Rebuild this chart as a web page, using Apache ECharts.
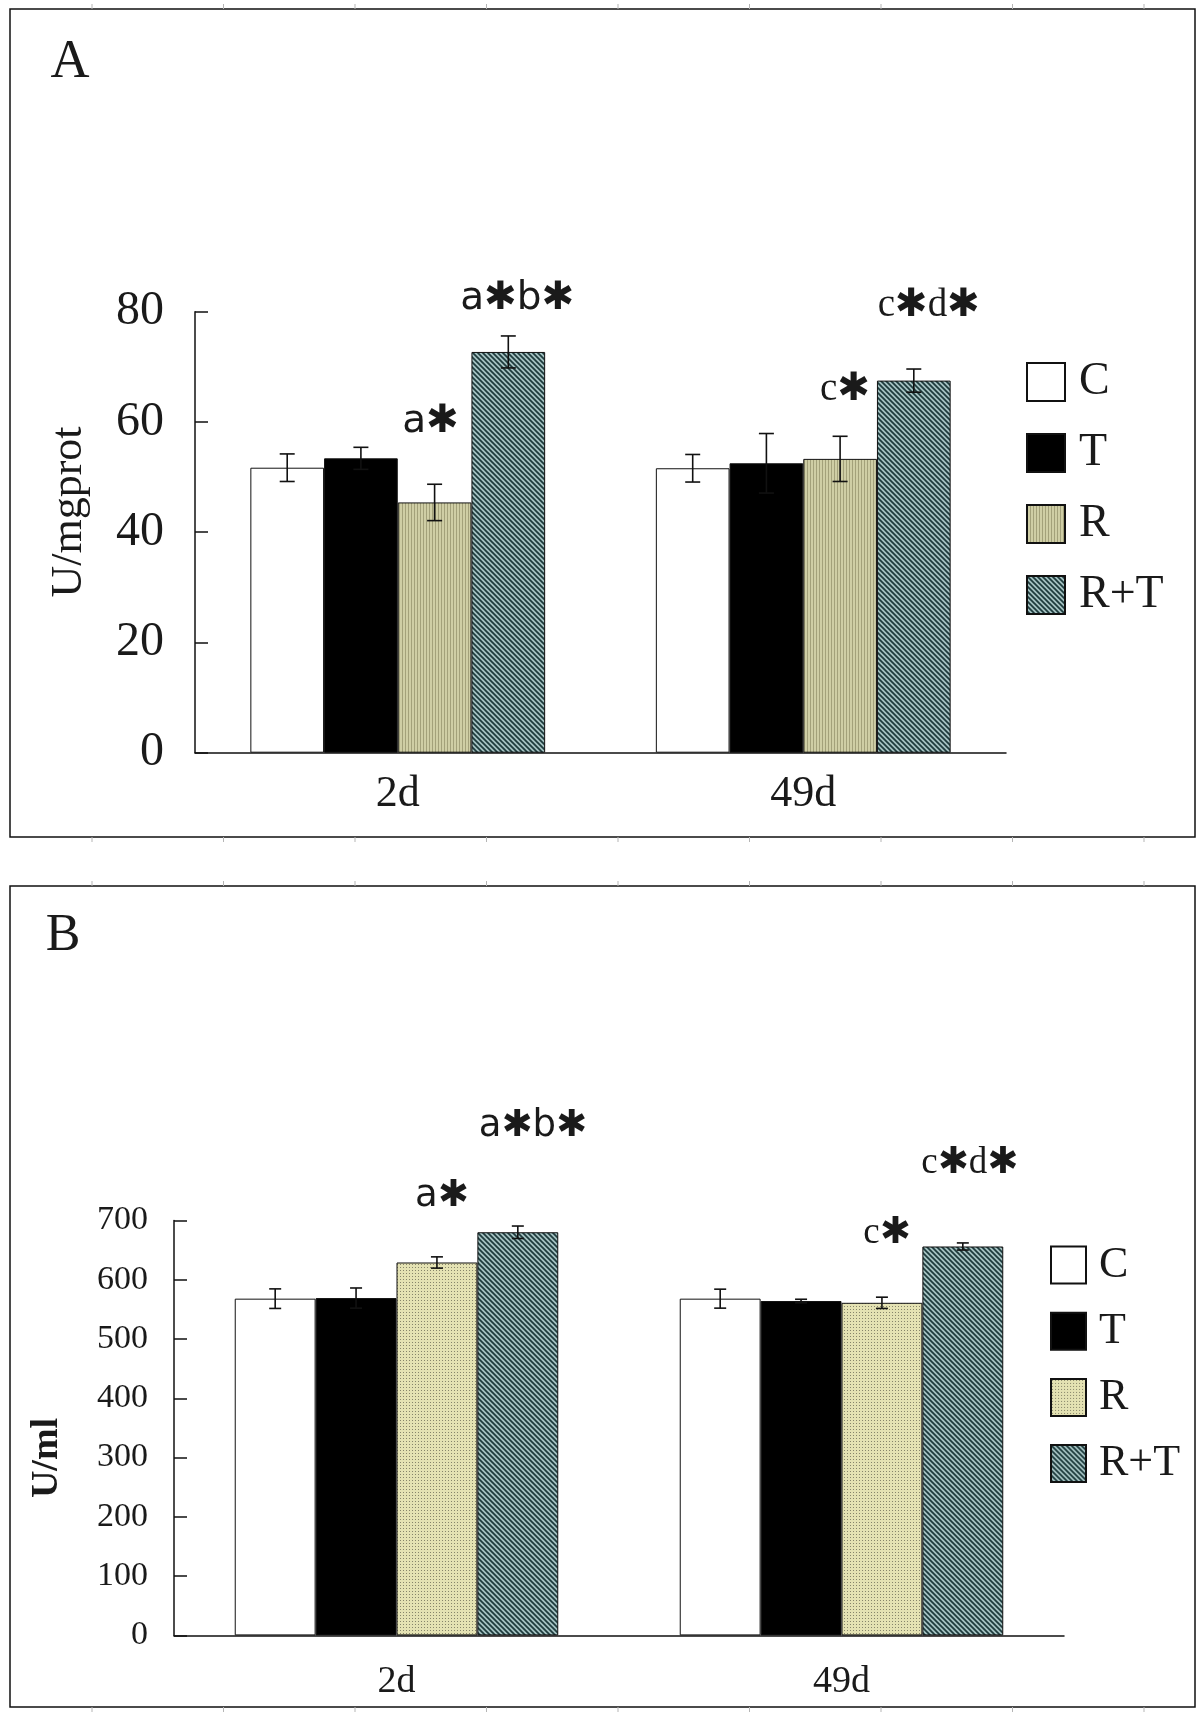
<!DOCTYPE html>
<html><head><meta charset="utf-8">
<script src="https://cdn.jsdelivr.net/npm/echarts@6/dist/echarts.min.js"></script>
<style>html,body{margin:0;padding:0;background:#fff}#c{width:1200px;height:1713px}</style>
</head><body><div id="c"></div>
<script>
// ---------------- data ----------------
const categories = ['2d', '49d'];
const groups = ['C', 'T', 'R', 'R+T'];

// Panel A  (U/mgprot)
const aC = [51.7, 51.6];
const aT = [53.4, 52.5];
const aR = [45.4, 53.3];
const aRT = [72.7, 67.5];
const aCErr = [2.5, 2.5];
const aTErr = [2.0, 5.4];
const aRErr = [3.3, 4.1];
const aRTErr = [2.9, 2.1];
const aTicks = [0, 20, 40, 60, 80];

// Panel B  (U/ml)
const bC = [568, 568];
const bT = [569, 564];
const bR = [629, 561];
const bRT = [680, 656];
const bCErr = [16.5, 16];
const bTErr = [17, 3];
const bRErr = [9.5, 9.5];
const bRTErr = [10.5, 6];
const bTicks = [0, 100, 200, 300, 400, 500, 600, 700];

// significance marks: text, category index, group index, level (data units)
const aNoteText = ['a\u2731', 'a\u2731b\u2731', 'c\u2731', 'c\u2731d\u2731'];
const aNoteCat = [0, 0, 1, 1];
const aNoteGroup = [2, 3, 2, 3];
const aNoteLevel = [60, 82.3, 65.8, 81];
const bNoteText = ['a\u2731', 'a\u2731b\u2731', 'c\u2731', 'c\u2731d\u2731'];
const bNoteCat = [0, 0, 1, 1];
const bNoteGroup = [2, 3, 2, 3];
const bNoteLevel = [741, 859, 679, 797];

// ---------------- style ----------------
const GAP = 0.273;
const noteDxA = [-4, 9, 5, 15];
const noteDxB = [5, 15, 5, 7];
const SANS_NOTE = 'DejaVu Sans, sans-serif';
const SERIF_NOTE = 'Liberation Serif, DejaVu Sans, serif';
const noteFonts = [SANS_NOTE, SANS_NOTE, SERIF_NOTE, SERIF_NOTE];
const SERIF = 'Liberation Serif, DejaVu Serif, serif';

function pattern(kind) {
  const c = document.createElement('canvas');
  const g = c.getContext('2d');
  if (kind === 'vlines') {
    c.width = 3; c.height = 4;
    g.fillStyle = '#cfcea5'; g.fillRect(0, 0, 3, 4);
    g.fillStyle = '#a3a17a'; g.fillRect(0, 0, 1, 4);
  } else if (kind === 'dots') {
    c.width = 3; c.height = 3;
    g.fillStyle = '#e4e2b3'; g.fillRect(0, 0, 3, 3);
    g.fillStyle = '#86856a'; g.fillRect(1, 1, 1, 1);
  } else {
    c.width = 5; c.height = 5;
    g.fillStyle = '#a4c1c1'; g.fillRect(0, 0, 5, 5);
    g.strokeStyle = '#1d3a3c'; g.lineWidth = 1.7;
    g.beginPath();
    g.moveTo(-1, -1); g.lineTo(6, 6);
    g.moveTo(-1, 4); g.lineTo(1, 6);
    g.moveTo(4, -1); g.lineTo(6, 1);
    g.stroke();
  }
  return { image: c, repeat: 'repeat' };
}

const fillsA = ['#ffffff', '#000000', pattern('vlines'), pattern('diag')];
const fillsB = ['#ffffff', '#000000', pattern('dots'), pattern('diag')];

const valsA = [aC, aT, aR, aRT];
const errsA = [aCErr, aTErr, aRErr, aRTErr];
const valsB = [bC, bT, bR, bRT];
const errsB = [bCErr, bTErr, bRErr, bRTErr];

function barSeries(prefix, vals, fills, axisIdx) {
  return groups.map((g, i) => ({
    name: prefix + g,
    type: 'bar',
    xAxisIndex: axisIdx, yAxisIndex: axisIdx,
    data: vals[i],
    barGap: '0%',
    barCategoryGap: (GAP * 100) + '%',
    itemStyle: { color: fills[i], borderColor: '#111', borderWidth: 1 },
    emphasis: { disabled: true },
    animation: false
  }));
}

function errSeries(vals, errs, axisIdx, cap) {
  const data = [];
  vals.forEach((arr, gi) => arr.forEach((v, ci) => data.push([ci, v, errs[gi][ci], gi])));
  return {
    type: 'custom', xAxisIndex: axisIdx, yAxisIndex: axisIdx,
    data, encode: { x: 0, y: 1 }, z: 5, clip: false, animation: false, silent: true,
    renderItem(params, api) {
      const ci = api.value(0), v = api.value(1), e = api.value(2), gi = api.value(3);
      const band = api.size([1, 0])[0];
      const bw = band * (1 - GAP) / 4;
      const x = api.coord([ci, v])[0] + (gi - 1.5) * bw;
      const yt = api.coord([ci, v + e])[1];
      const yb = api.coord([ci, v - e])[1];
      const st = { stroke: '#111', lineWidth: 1.6 };
      return { type: 'group', children: [
        { type: 'line', shape: { x1: x, y1: yt, x2: x, y2: yb }, style: st },
        { type: 'line', shape: { x1: x - cap, y1: yt, x2: x + cap, y2: yt }, style: st },
        { type: 'line', shape: { x1: x - cap, y1: yb, x2: x + cap, y2: yb }, style: st }
      ]};
    }
  };
}

function noteSeries(texts, cats, grps, levels, dx, fonts, size, axisIdx) {
  const data = texts.map((t, i) => [cats[i], levels[i], grps[i]]);
  return {
    type: 'custom', xAxisIndex: axisIdx, yAxisIndex: axisIdx,
    data, encode: { x: 0, y: 1 }, z: 6, clip: false, animation: false, silent: true,
    renderItem(params, api) {
      const i = params.dataIndex;
      const band = api.size([1, 0])[0];
      const bw = band * (1 - GAP) / 4;
      const p = api.coord([api.value(0), api.value(1)]);
      return { type: 'text', x: p[0] + (api.value(2) - 1.5) * bw + dx[i], y: p[1],
        style: { text: texts[i], fontSize: size, fontFamily: fonts[i], fill: '#1a1a1a',
                 align: 'center', verticalAlign: 'middle' } };
    }
  };
}

// faint ruler ticks along the frame edges (decoration of the original figure border)
function frameTicks(y0, y1) {
  const out = [];
  for (let x = 92; x < 1195; x += 131.5) {
    out.push({ type: 'line', silent: true, shape: { x1: x, y1: y0 - 5, x2: x, y2: y0 }, style: { stroke: '#b5b5b5', lineWidth: 1 } });
    out.push({ type: 'line', silent: true, shape: { x1: x, y1: y1, x2: x, y2: y1 + 5 }, style: { stroke: '#b5b5b5', lineWidth: 1 } });
  }
  return out;
}

const axisLine = { show: true, lineStyle: { color: '#111', width: 1.5 } };

const option = {
  backgroundColor: '#ffffff',
  animation: false,
  grid: [
    { left: 195, top: 311.7, width: 811, height: 441, containLabel: false, outerBoundsMode: 'none' },
    { left: 174, top: 1220.4, width: 890, height: 415, containLabel: false, outerBoundsMode: 'none' }
  ],
  xAxis: [
    { type: 'category', gridIndex: 0, data: categories, axisLine, axisTick: { show: false },
      axisLabel: { fontFamily: SERIF, fontSize: 44, color: '#1a1a1a', margin: 20 } },
    { type: 'category', gridIndex: 1, data: categories, axisLine, axisTick: { show: false },
      axisLabel: { fontFamily: SERIF, fontSize: 38, color: '#1a1a1a', margin: 28 } }
  ],
  yAxis: [
    { type: 'value', gridIndex: 0, min: aTicks[0], max: aTicks[aTicks.length - 1], interval: aTicks[1] - aTicks[0],
      axisLine, axisTick: { show: true, inside: true, length: 13, lineStyle: { color: '#111', width: 1.5 } },
      splitLine: { show: false },
      axisLabel: { fontFamily: SERIF, fontSize: 48, color: '#1a1a1a', margin: 31 } },
    { type: 'value', gridIndex: 1, min: bTicks[0], max: bTicks[bTicks.length - 1], interval: bTicks[1] - bTicks[0],
      axisLine, axisTick: { show: true, inside: true, length: 13, lineStyle: { color: '#111', width: 1.5 } },
      splitLine: { show: false },
      axisLabel: { fontFamily: SERIF, fontSize: 34, color: '#1a1a1a', margin: 26 } }
  ],
  legend: [
    { orient: 'vertical', left: 1026, top: 359, padding: 0, itemWidth: 38, itemHeight: 38, itemGap: 25, icon: 'rect',
      data: groups.map(g => 'A' + g), formatter: n => n.slice(1), selectedMode: false,
      textStyle: { fontFamily: SERIF, fontSize: 46, lineHeight: 38, color: '#1a1a1a', padding: [0, 0, 0, 9] } },
    { orient: 'vertical', left: 1050, top: 1243, padding: 0, itemWidth: 35, itemHeight: 37, itemGap: 22.2, icon: 'rect',
      data: groups.map(g => 'B' + g), formatter: n => n.slice(1), selectedMode: false,
      textStyle: { fontFamily: SERIF, fontSize: 44, lineHeight: 37, color: '#1a1a1a', padding: [0, 0, 0, 8] } }
  ],
  graphic: [
    { type: 'rect', shape: { x: 10, y: 9, width: 1185, height: 828 }, style: { fill: 'none', stroke: '#111', lineWidth: 1.5 }, silent: true },
    { type: 'rect', shape: { x: 10, y: 886, width: 1185, height: 821 }, style: { fill: 'none', stroke: '#111', lineWidth: 1.5 }, silent: true },
    ...frameTicks(9, 837),
    ...frameTicks(886, 1707),
    { type: 'text', x: 70, y: 63, style: { text: 'A', fontFamily: SERIF, fontSize: 54, fill: '#1a1a1a', align: 'center', verticalAlign: 'middle' } },
    { type: 'text', x: 63, y: 936, style: { text: 'B', fontFamily: SERIF, fontSize: 52, fill: '#1a1a1a', align: 'center', verticalAlign: 'middle' } },
    { type: 'text', x: 69, y: 512, rotation: Math.PI / 2, style: { text: 'U/mgprot', fontFamily: SERIF, fontSize: 44, fill: '#1a1a1a', align: 'center', verticalAlign: 'middle' } },
    { type: 'text', x: 47, y: 1458, rotation: Math.PI / 2, style: { text: 'U/ml', fontFamily: SERIF, fontSize: 38, fontWeight: 'bold', fill: '#1a1a1a', align: 'center', verticalAlign: 'middle' } }
  ],
  series: [
    ...barSeries('A', valsA, fillsA, 0),
    ...barSeries('B', valsB, fillsB, 1),
    errSeries(valsA, errsA, 0, 7.5),
    errSeries(valsB, errsB, 1, 6),
    noteSeries(aNoteText, aNoteCat, aNoteGroup, aNoteLevel, noteDxA, noteFonts, 39, 0),
    noteSeries(bNoteText, bNoteCat, bNoteGroup, bNoteLevel, noteDxB, noteFonts, 37, 1)
  ]
};

const chart = echarts.init(document.getElementById('c'), null, { renderer: 'canvas' });
chart.setOption(option);
</script>
</body></html>
